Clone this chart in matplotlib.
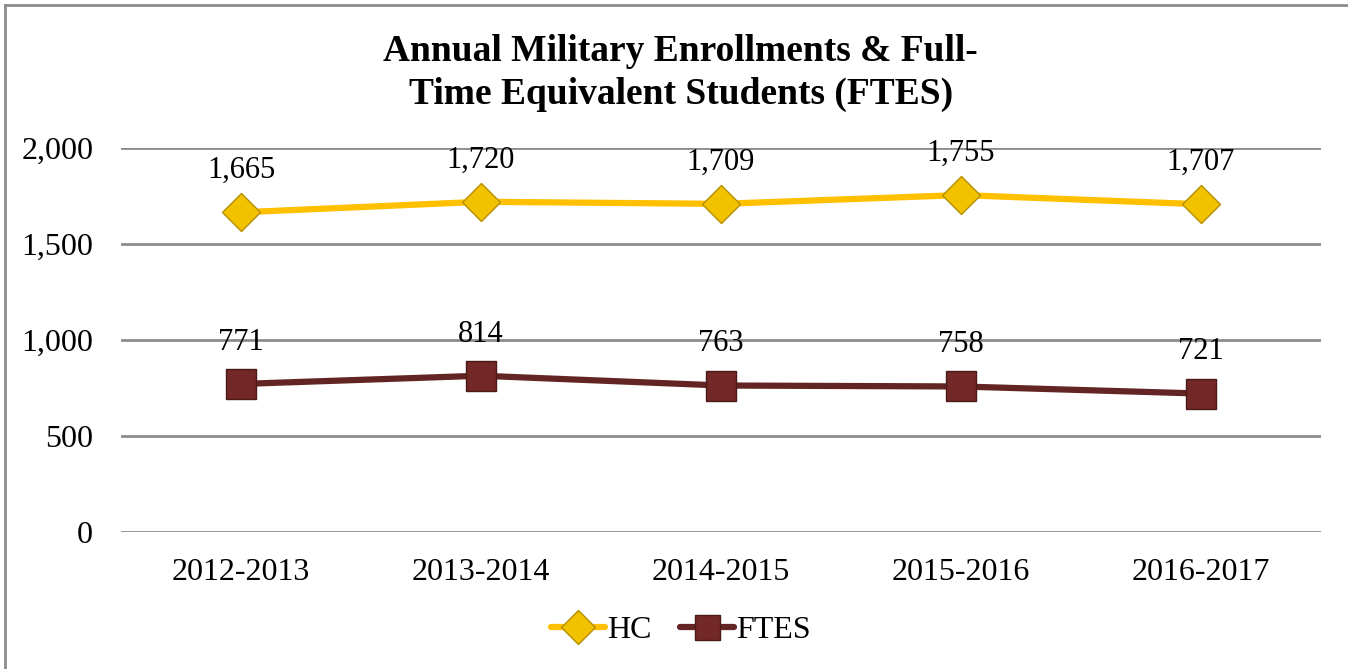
import matplotlib
matplotlib.use("Agg")
import matplotlib.pyplot as plt
from matplotlib.lines import Line2D

categories = ["2012-2013", "2013-2014", "2014-2015", "2015-2016", "2016-2017"]
hc_values = [1665, 1720, 1709, 1755, 1707]
ftes_values = [771, 814, 763, 758, 721]
y_ticks = [0, 500, 1000, 1500, 2000]
y_tick_labels = ["0", "500", "1,000", "1,500", "2,000"]

plt.rcParams['font.family'] = ['Liberation Serif', 'DejaVu Serif']

W, H = 1348, 669
fig = plt.figure(figsize=(W / 100, H / 100), dpi=100)
ax = fig.add_axes([121 / W, 1 - 532 / H, 1200 / W, 384 / H])

hc_color = "#FFC000"
hc_face = "#F2C200"
hc_edge = "#B58E00"
ftes_color = "#632523"
ftes_face = "#722826"
ftes_edge = "#4A1A18"

x = list(range(len(categories)))
ax.plot(x, hc_values, color=hc_color, lw=4.5, marker='D', ms=19,
        markerfacecolor=hc_face, markeredgecolor=hc_edge, markeredgewidth=1.0,
        solid_capstyle='round', zorder=3, label="HC")
ax.plot(x, ftes_values, color=ftes_color, lw=4.5, marker='s', ms=21,
        markerfacecolor=ftes_face, markeredgecolor=ftes_edge, markeredgewidth=1.0,
        solid_capstyle='round', zorder=3, label="FTES")

for xi, v in zip(x, hc_values):
    ax.annotate(f"{v:,}", (xi, v), xytext=(0, 30), textcoords='offset points',
                ha='center', va='center', fontsize=22, color='black')
for xi, v in zip(x, ftes_values):
    ax.annotate(f"{v:,}", (xi, v), xytext=(0, 30), textcoords='offset points',
                ha='center', va='center', fontsize=22, color='black')

ax.set_xlim(-0.5, len(categories) - 0.5)
ax.set_ylim(0, 2000)
ax.set_yticks(y_ticks)
ax.set_yticklabels(y_tick_labels)
ax.set_xticks(x)
ax.set_xticklabels(categories)
ax.tick_params(axis='both', length=0, labelsize=23, colors='black')
ax.tick_params(axis='y', pad=20)
ax.tick_params(axis='x', pad=19)
for s in ax.spines.values():
    s.set_visible(False)
ax.yaxis.grid(True, color="#8C8C8C", lw=2)
ax.set_axisbelow(True)

fig.text(0.505, 1 - 73 / H, "Annual Military Enrollments & Full-\nTime Equivalent Students (FTES)",
         ha='center', va='center', fontsize=27, fontweight='bold', linespacing=1.28)

handles = [
    Line2D([], [], color=hc_color, lw=4.5, marker='D', ms=17,
           markerfacecolor=hc_face, markeredgecolor=hc_edge, solid_capstyle='round'),
    Line2D([], [], color=ftes_color, lw=4.5, marker='s', ms=18,
           markerfacecolor=ftes_face, markeredgecolor=ftes_edge, solid_capstyle='round'),
]
fig.legend(handles, ["HC", "FTES"], loc='center', bbox_to_anchor=(0.505, 1 - 630 / H),
           ncol=2, frameon=False, fontsize=23, handlelength=1.7, handletextpad=0.05,
           columnspacing=0.9)

# figure border (left and top visible)
fig.add_artist(Line2D([5 / W, 5 / W], [0, 1 - 5 / H], color="#8C8C8C", lw=2,
                      transform=fig.transFigure))
fig.add_artist(Line2D([5 / W, 1], [1 - 5 / H, 1 - 5 / H], color="#8C8C8C", lw=2,
                      transform=fig.transFigure))

fig.savefig("out.png", dpi=100)
